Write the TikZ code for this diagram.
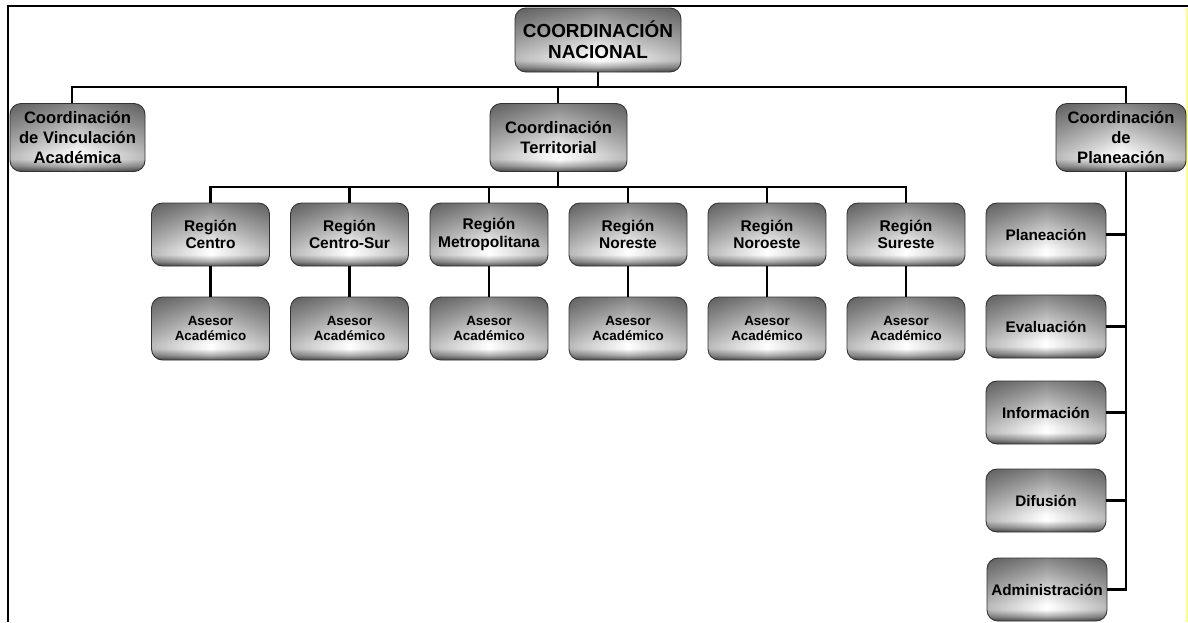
\documentclass[tikz,border=0pt]{standalone}
\usepackage{fontspec}
\setmainfont{Liberation Sans}
\usetikzlibrary{fadings}
\definecolor{edgeyellow}{HTML}{FFFF88}
% vertical gradient of the boxes: grey top, white band near the bottom, dark bottom edge
\pgfdeclareverticalshading{orgbox}{100bp}{color(0bp)=(black!66); color(25bp)=(black!66); color(29bp)=(black!30); color(34bp)=(white); color(38bp)=(white); color(75bp)=(black!48); color(100bp)=(black!48)}
% slight darkening towards the left and right sides
\tikzfading[name=sidedark, left color=transparent!72, right color=transparent!72, middle color=transparent!100]
\tikzset{
  orgnode/.style={draw=black!80, line width=0.9pt, rounded corners=11pt, shading=orgbox,
    align=center, inner sep=0pt, text=black,
    path picture={
      \fill[black, path fading=sidedark] (path picture bounding box.south west) rectangle (path picture bounding box.north east);
    }},
  topbox/.style={orgnode, minimum width=166pt, minimum height=64pt, font=\fontsize{18.9}{21}\selectfont\bfseries},
  levelbox/.style={orgnode, minimum width=#1, minimum height=68pt, font=\fontsize{16.6}{20}\selectfont\bfseries},
  regionbox/.style={orgnode, minimum width=118pt, minimum height=63pt, font=\fontsize{15.5}{17.5}\selectfont\bfseries},
  advisorbox/.style={orgnode, minimum width=118pt, minimum height=63pt, font=\fontsize{13.4}{15}\selectfont\bfseries},
  unitbox/.style={orgnode, minimum width=120pt, minimum height=63pt, font=\fontsize{15.3}{17.5}\selectfont\bfseries},
  conn/.style={draw=black, line width=2.4pt}
}
\begin{document}
\begin{tikzpicture}[x=1pt,y=-1pt]
\useasboundingbox (0,0) rectangle (1188,622);
% page frame
\draw[line width=2.2pt] (8,622) -- (8,6) -- (1188,6);
\draw[edgeyellow, line width=2.5pt] (1186.8,8) -- (1186.8,622);

% bus coordinates
\coordinate (busL) at (72,87);
\coordinate (busR) at (1126,87);
\coordinate (busT) at (558,187);

% top level
\node[topbox] (cn) at (598,40) {COORDINACIÓN\\NACIONAL};

% second level
\node[levelbox=135pt] (vin) at (77.5,137.5) {Coordinación\\de Vinculación\\Académica};
\node[levelbox=137pt] (ter) at (558.5,137.5) {Coordinación\\Territorial};
\node[levelbox=130pt] (cp) at (1121,137.5) {Coordinación\\de\\Planeación};

% regions and advisors
\foreach \name/\x/\txt in {r1/210.5/{Región\\Centro}, r2/349.5/{Región\\Centro-Sur}, r3/489/{Región\\Metropolitana}, r4/628/{Región\\Noreste}, r5/767/{Región\\Noroeste}, r6/906/{Región\\Sureste}}{
  \node[regionbox] (\name) at (\x,234.5) {\txt};
  \node[advisorbox] (a\name) at (\x,328.5) {Asesor\\Académico};
}

% planning units
\node[unitbox] (pla) at (1046,234.5) {Planeación};
\node[unitbox] (eva) at (1046,326.5) {Evaluación};
\node[unitbox] (inf) at (1046,412.5) {Información};
\node[unitbox] (dif) at (1046,500.5) {Difusión};
\node[unitbox] (adm) at (1047,589.5) {Administración};

% connectors: top level
\draw[conn] (cn.south) -- (cn.south |- busL);
\draw[conn] (busL |- vin.north) -- (busL) -- (busR) -- (busR |- cp.north);
\draw[conn] (busT |- busL) -- (busT |- ter.north);

% connectors: regions
\draw[conn] (busT |- ter.south) -- (busT);
\draw[conn] (r1.north) -- (r1.north |- busT) -- (r6.north |- busT) -- (r6.north);
\foreach \name in {r2,r3,r4,r5}{
  \draw[conn] (\name.north |- busT) -- (\name.north);
}
\foreach \name in {r1,r2,r3,r4,r5,r6}{
  \draw[conn] (\name.south) -- (a\name.north);
}

% connectors: planning units
\draw[conn] (busR |- cp.south) -- (busR |- adm.east) -- (adm.east);
\foreach \name in {pla,eva,inf,dif}{
  \draw[conn] (\name.east) -- (\name.east -| busR);
}
\end{tikzpicture}
\end{document}
